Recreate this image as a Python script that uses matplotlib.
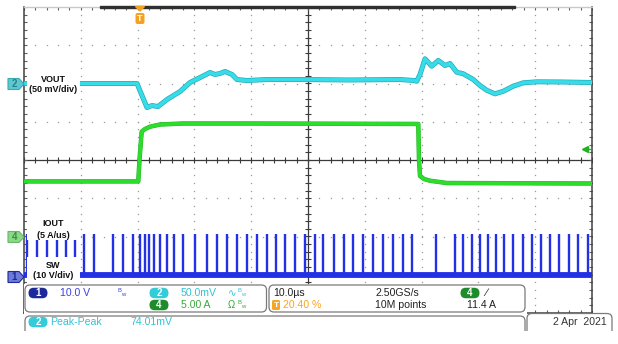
import numpy as np
import matplotlib
matplotlib.use('Agg')
import matplotlib.pyplot as plt
from matplotlib.patches import FancyBboxPatch, Rectangle, Polygon
from matplotlib.transforms import Affine2D
import matplotlib.patheffects as pe

# ---------------- data ----------------
# VOUT deviation (mV) vs time (us, trigger at t=0)
vout_t_us = [-20.4, -0.5, 0.37, 1.25, 2.13, 3.19, 4.78, 7.06, 8.83, 10.59, 12.35, 13.23,
             14.11, 14.99, 16.22, 17.10, 18.86, 22.38, 28.19, 36.99, 45.80, 48.26, 48.74,
             49.32, 50.20, 51.38, 52.54, 53.72, 54.60, 55.78, 56.94, 58.70, 59.88, 61.06,
             62.52, 63.98, 65.74, 67.50, 69.86, 73.97, 79.6]
vout_mv = [0.0, 0.0, -15.7, -31.4, -28.8, -30.1, -20.9, -10.5, 1.3, 7.8, 14.4, 11.8,
           13.1, 15.7, 11.8, 5.2, 3.9, 5.2, 5.2, 4.6, 5.2, 3.9, 3.0,
           11.8, 32.3, 22.6, 30.1, 23.5, 26.1, 14.8, 12.7, 5.2, -2.6, -8.8,
           -13.5, -10.1, -3.5, 0.9, 2.2, 2.0, 1.3]

# IOUT (A) vs time (us)
iout_t_us = [-20.4, -0.28, -0.07, 0.32, 0.90, 1.78, 3.54, 7.59, 19.39, 48.79, 49.02,
             49.14, 49.32, 50.02, 51.08, 54.02, 79.6]
iout_a = [7.2, 7.2, 10.0, 13.7, 14.05, 14.35, 14.64, 14.77, 14.77, 14.71, 14.71,
          10.0, 7.91, 7.52, 7.29, 6.99, 6.93]

# SW node pulses (us)
sw_pulse_t_us = [-19.87, -18.11, -16.35, -14.59, -13.01, -11.42,
                 -9.84, -8.08, -4.68, -2.92, -1.25, 0.02, 0.90, 1.66, 2.49, 3.54, 4.72,
                 6.01, 7.65, 9.71, 11.77, 13.63, 15.29, 17.15, 18.81, 20.57, 22.33,
                 23.97, 25.55, 27.31, 29.07, 30.83, 32.29, 34.23, 35.94, 37.57, 39.34,
                 40.99, 42.75, 44.51, 46.27, 47.86, 52.14, 55.48, 56.94, 58.42, 59.88,
                 61.34, 62.70, 64.16, 65.64, 67.40, 68.98, 70.57, 72.21, 73.84, 75.60,
                 77.19, 78.95]
sw_high_v = 10.65
sw_low_v = 0.0

# scope settings
T_DIV = 10.0
TRIG_PCT = 20.40
V_DIV_CH1, POS_CH1 = 10.0, -3.0
V_DIV_CH2, POS_CH2 = 50.0, 2.0
V_DIV_CH4, POS_CH4 = 5.0, -2.0
TRIG_LEVEL_A = 11.4

# ---------------- figure ----------------
W, H = 618, 344
fig = plt.figure(figsize=(W / 100, H / 100), dpi=100)
fig.patch.set_facecolor('white')
P = Affine2D().scale(1 / W, -1 / H).translate(0, 1) + fig.transFigure
FONT = ['Liberation Sans', 'DejaVu Sans']

ax = fig.add_axes([24 / W, 31 / H, 568 / W, 306 / H])
t0 = -TRIG_PCT / 100 * 10 * T_DIV
t1 = t0 + 10 * T_DIV
ax.set_xlim(t0, t1)
ax.set_ylim(-4, 4)
ax.axis('off')

gcol = '#9a9a9a'
minor_x = t0 + T_DIV * np.arange(0, 10.001, 0.2)
minor_y = np.arange(-4, 4.001, 0.2)
# dotted graticule
for k in range(1, 10):
    if k == 5:
        continue
    ax.plot(np.full_like(minor_y, t0 + k * T_DIV), minor_y, ls='none', marker='s',
            ms=0.9, mew=0, color=gcol, zorder=1)
for j in range(-3, 4):
    if j == 0:
        continue
    ax.plot(minor_x, np.full_like(minor_x, j), ls='none', marker='s', ms=0.9, mew=0,
            color=gcol, zorder=1)
# center cross
ccol = '#3a3a3a'
xc = t0 + 5 * T_DIV
ax.axvline(xc, color=ccol, lw=0.9, zorder=1.5)
ax.axhline(0, color=ccol, lw=0.9, zorder=1.5)
ax.plot(minor_x, np.zeros_like(minor_x), ls='none', marker='|', ms=4.5, mew=0.8,
        color=ccol, zorder=1.5)
ax.plot(np.full_like(minor_y, xc), minor_y, ls='none', marker='_', ms=4.5, mew=0.8,
        color=ccol, zorder=1.5)
# border ticks
for yy in (4, -4):
    ax.plot(minor_x, np.full_like(minor_x, yy), ls='none', marker='|', ms=4.5, mew=0.8,
            color='#606060', zorder=1.5)
for xx in (t0, t1):
    ax.plot(np.full_like(minor_y, xx), minor_y, ls='none', marker='_', ms=4.5, mew=0.8,
            color='#606060', zorder=1.5)
# borders
ax.plot([t0, t0], [-4, 4], color='#404040', lw=1.1, clip_on=False, zorder=2)
ax.plot([t1, t1], [-4, 4], color='#404040', lw=1.1, clip_on=False, zorder=2)
ax.plot([t0, t1], [-4, -4], color='#404040', lw=1.1, clip_on=False, zorder=2)
ax.plot([t0, t1], [4, 4], color='#c8c8c8', lw=1.0, clip_on=False, zorder=2)

# traces
blue = '#2330e6'
cyan = '#38dbe8'
green = '#2edc2e'
sw_base = POS_CH1 + sw_low_v / V_DIV_CH1
ax.plot([t0, t1], [sw_base, sw_base], color=blue, lw=4.2, zorder=3,
        solid_capstyle='butt')
ax.vlines(sw_pulse_t_us, sw_base, POS_CH1 + sw_high_v / V_DIV_CH1, color=blue,
          lw=1.7, zorder=3)

iy = POS_CH4 + np.array(iout_a) / V_DIV_CH4
ax.plot(iout_t_us, iy, color=green, lw=2.6, zorder=3.2,
        path_effects=[pe.Stroke(linewidth=3.2, foreground='#22b022'), pe.Normal()])

vy = POS_CH2 + np.array(vout_mv) / V_DIV_CH2
ax.plot(vout_t_us, vy, color=cyan, lw=2.7, zorder=3.4,
        path_effects=[pe.Stroke(linewidth=3.6, foreground='#1fa6b4'), pe.Normal()])

# trigger level arrow (right)
tl = POS_CH4 + TRIG_LEVEL_A / V_DIV_CH4
ax.plot([t1 - 1.3, t1 - 0.2], [tl, tl], color='#22b022', lw=1.0, clip_on=False, zorder=4)
ax.plot([t1 - 1.3], [tl], marker='<', ms=4, color='#22b022', clip_on=False, zorder=4)

# record bar on the top border
fig.add_artist(Rectangle((100, 6), 415, 2.2, transform=P, color='#303030', zorder=3))

# label boxes inside the graticule
def label(lines, y0, y1, ys):
    fig.add_artist(Rectangle((27, y0), 53, y1 - y0, transform=P, facecolor='white',
                             edgecolor='none', zorder=5))
    for s, yy in zip(lines, ys):
        fig.text(53, yy, s, transform=P, ha='center', va='center', fontsize=6.5,
                 fontweight='bold', family=FONT, color='#111111', zorder=6)

label(['VOUT', '(50 mV/div)'], 70, 97, [79, 90])
label(['IOUT', '(5 A/us)'], 217, 240, [224, 235])
label(['SW', '(10 V/div)'], 257, 284, [265, 276])

# channel markers on the left
def chmark(y, face, edge, txtc, s):
    fig.add_artist(Polygon([(8, y - 5.5), (19, y - 5.5), (24, y), (19, y + 5.5), (8, y + 5.5)],
                           closed=True, transform=P, facecolor=face, edgecolor=edge,
                           lw=0.8, zorder=6))
    fig.text(14.5, y + 0.3, s, transform=P, ha='center', va='center', fontsize=7,
             fontweight='bold', family=FONT, color=txtc, zorder=7)

chmark(84, '#5cc9d2', '#3aa9b2', '#2b8088', '2')
chmark(237, '#8ad88a', '#66b866', '#3d8d3d', '4')
chmark(277, '#6c7ad8', '#1c2a9c', '#1c2a9c', '1')

# trigger position marker (top)
fig.add_artist(Polygon([(135.5, 6.5), (144.5, 6.5), (140, 11)], closed=True, transform=P,
                       color='#f5a11f', zorder=6))
fig.add_artist(FancyBboxPatch((135.5, 13), 9, 11, boxstyle='round,pad=0,rounding_size=2',
                              transform=P, facecolor='#f5a11f', edgecolor='none', zorder=6))
fig.text(140, 18.8, 'T', transform=P, ha='center', va='center', fontsize=6.5,
         fontweight='bold', family=FONT, color='white', zorder=7)

# ---------------- bottom info panel ----------------
fig.add_artist(Rectangle((24, 283.5), 503, 31, transform=P, facecolor='white',
                         edgecolor='none', zorder=4))
edge = '#7a7a7a'
def rbox(x0, y0, x1, y1, clip=None):
    p = FancyBboxPatch((x0, y0), x1 - x0, y1 - y0, boxstyle='round,pad=0,rounding_size=5',
                       transform=P, facecolor='white', edgecolor=edge, lw=0.9, zorder=5)
    fig.add_artist(p)
    if clip is not None:
        p.set_clip_path(clip)
    return p

rbox(25, 285, 266.5, 312)
rbox(269, 285, 525, 312)
clipr = Rectangle((0, 0), W, 331, transform=P)
rbox(25, 316, 525, 345, clip=clipr)
rbox(527, 313.5, 612, 345, clip=clipr)

def badge(x, y, s, face, w=19, h=10.5):
    fig.add_artist(FancyBboxPatch((x - w / 2, y - h / 2), w, h,
                                  boxstyle='round,pad=0,rounding_size=%g' % (h / 2),
                                  transform=P, facecolor=face, edgecolor='none', zorder=6))
    fig.text(x, y + 0.4, s, transform=P, ha='center', va='center', fontsize=7,
             fontweight='bold', family=FONT, color='white', zorder=7)

def txt(x, y, s, c, size=7.6, ha='left'):
    fig.text(x, y + 0.4, s, transform=P, ha=ha, va='center', fontsize=size, family=FONT,
             color=c, zorder=7)

c_blue = '#3a42e0'
c_cyan = '#2fc4d4'
c_green = '#3aa83a'
c_dark = '#222222'
c_orange = '#f5a623'
BW = r'$\mathregular{^{B}{}_{w}}$'

r1, r2, r3 = 293, 305, 322
badge(38, r1, '1', '#1c2a9c')
txt(60, r1, '10.0 V', c_blue)
txt(117, r1 - 0.5, BW, c_blue, size=6)
badge(159, r1, '2', '#33ccd8')
txt(181, r1, '50.0mV', c_cyan)
txt(228, r1, '∿', c_cyan, size=7.5)
txt(237, r1 - 0.5, BW, c_cyan, size=6)
badge(159, r2, '4', '#1e8c2a')
txt(181, r2, '5.00 A', c_green)
txt(228, r2, 'Ω', c_green, size=7)
txt(237, r2 - 0.5, BW, c_green, size=6)

txt(273, r1, '10.0µs', c_dark)
fig.add_artist(FancyBboxPatch((272, r2 - 5), 8, 10, boxstyle='round,pad=0,rounding_size=1.5',
                              transform=P, facecolor=c_orange, edgecolor='none', zorder=6))
fig.text(276, r2 + 0.4, 'T', transform=P, ha='center', va='center', fontsize=6,
         fontweight='bold', family=FONT, color='white', zorder=7)
txt(283, r2, '20.40 %', c_orange)
txt(375, r1, '2.50GS/s', c_dark)
txt(375, r2, '10M points', c_dark)
badge(470, r1, '4', '#1e8c2a')
txt(485, r1, '∕', c_dark, size=8)
txt(467, r2, '11.4 A', c_dark)

badge(38, r3, '2', '#33ccd8')
txt(50, r3, 'Peak-Peak', c_cyan)
txt(130, r3, '74.01mV', c_cyan)
txt(607, r3, '2 Apr  2021', '#333333', ha='right')

fig.savefig('out.png', dpi=100)
